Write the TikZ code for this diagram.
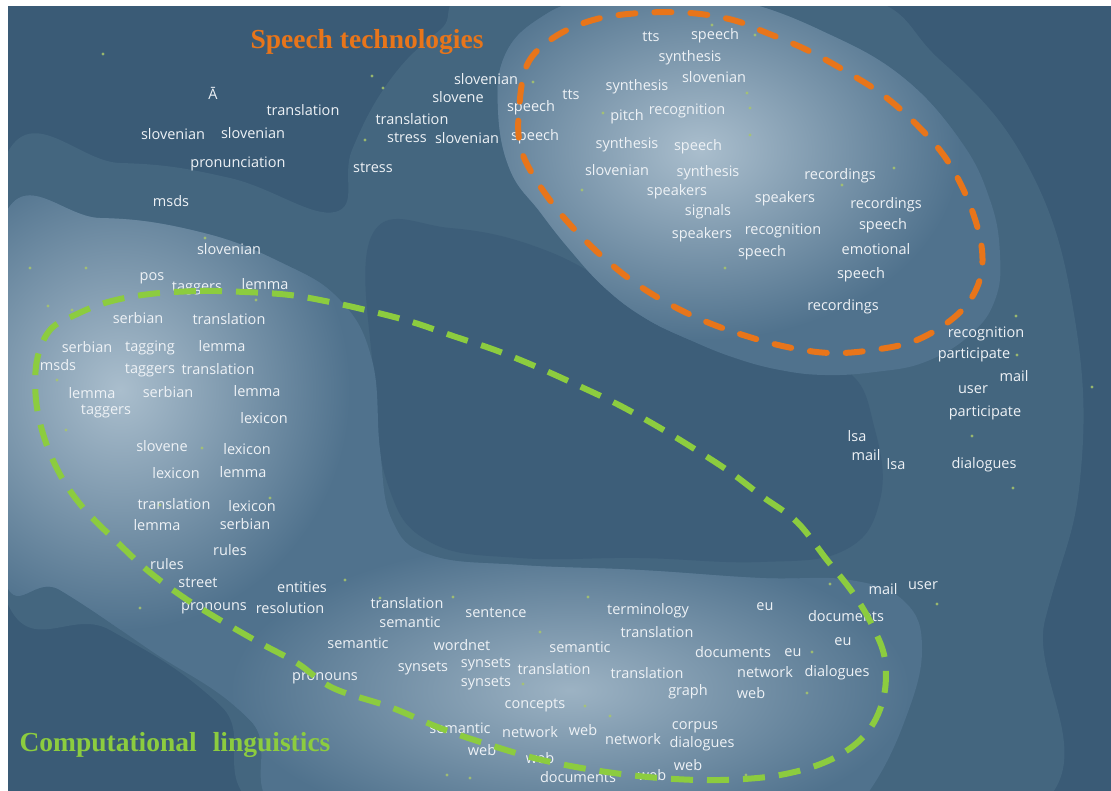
\documentclass[tikz,border=0pt]{standalone}
\usepackage{fontspec}
\newfontfamily\wordfont{Open Sans}
\newfontfamily\titlefont{Liberation Serif}
\definecolor{bgzero}{HTML}{3A5B76}
\definecolor{levone}{HTML}{44667F}
\definecolor{holec}{HTML}{3D5E79}
\definecolor{levtwo}{HTML}{50728D}
\definecolor{glowc}{HTML}{AABECD}
\definecolor{wordc}{HTML}{EEF2F6}
\definecolor{orangec}{HTML}{E8751A}
\definecolor{greenc}{HTML}{8CCC3F}
\definecolor{dotc}{HTML}{A8C66C}
\begin{document}
\begin{tikzpicture}[x=1pt,y=-1pt,
  word/.style={font=\wordfont\fontsize{14.5}{16}\selectfont, text=wordc, inner sep=0pt},
  titlestyle/.style={font=\titlefont\bfseries\fontsize{27.5}{30}\selectfont, inner sep=0pt},
  cluster/.style={line width=6pt, dash pattern=on 22pt off 14pt},
  gdot/.style={dotc, opacity=0.85}]
\useasboundingbox (0,0) rectangle (1111,790);
\begin{scope}
\clip (8,6) rectangle (1130,820);
\fill[bgzero] (8,6) rectangle (1130,820);
% level 1
\fill[levone] plot[smooth cycle, tension=0.7] coordinates {(0,172) (120,163) (230,178) (335,212) (352,150) (390,80) (440,30) (500,-10) (830,-10) (940,60) (1030,170) (1075,320) (1080,480) (1045,620) (990,830) (330,830) (220,705) (110,630) (0,580)};
% central darker hole
\fill[holec] plot[smooth cycle, tension=0.7] coordinates {(372,235) (450,228) (545,250) (640,300) (760,358) (845,370) (875,430) (880,500) (845,550) (760,562) (640,558) (520,558) (430,542) (388,485) (374,380)};
% level 2 top right
\fill[levtwo] plot[smooth cycle, tension=0.7] coordinates {(498,110) (505,55) (540,18) (590,0) (690,-5) (745,2) (820,30) (900,75) (960,140) (990,200) (1000,255) (995,300) (970,335) (925,362) (875,372) (825,375) (780,370) (735,358) (690,340) (645,318) (605,288) (570,250) (540,212) (510,170)};
% level 2 L shape
\fill[levtwo] plot[smooth cycle, tension=0.7] coordinates {(0,228) (100,218) (200,232) (280,262) (340,300) (372,360) (380,450) (392,520) (430,555) (520,565) (640,570) (760,578) (850,580) (905,602) (922,650) (905,720) (870,790) (830,830) (330,830) (250,720) (150,650) (60,590) (0,560)};
% glows
\begin{scope}
\clip plot[smooth cycle, tension=0.7] coordinates {(498,110) (505,55) (540,18) (590,0) (690,-5) (745,2) (820,30) (900,75) (960,140) (990,200) (1000,255) (995,300) (970,335) (925,362) (875,372) (825,375) (780,370) (735,358) (690,340) (645,318) (605,288) (570,250) (540,212) (510,170)};
\shade[inner color=glowc, outer color=levtwo] (700,150) ellipse (260 and 190);
\end{scope}
\begin{scope}
\clip plot[smooth cycle, tension=0.7] coordinates {(0,228) (100,218) (200,232) (280,262) (340,300) (372,360) (380,450) (392,520) (430,555) (520,565) (640,570) (760,578) (850,580) (905,602) (922,650) (905,720) (870,790) (830,830) (330,830) (250,720) (150,650) (60,590) (0,560)};
\shade[inner color=glowc, outer color=levtwo] (120,390) ellipse (230 and 240);
\shade[inner color=glowc!85!levtwo, outer color=levtwo] (570,690) ellipse (340 and 150);
\end{scope}
% small dots
\foreach \x/\y in {103/54, 372/76, 365/140, 383/88, 205/238, 30/268, 86/268, 48/306, 72/310, 256/300, 57/380, 66/430, 202/448, 160/505, 270/498, 140/608, 345/580, 380/598, 453/597, 540/632, 588/597, 523/684, 585/706, 610/716, 830/584, 937/604, 807/693, 812/652, 1016/316, 1017/355, 1092/387, 972/436, 1013/488, 894/168, 842/185, 750/108, 747/93, 712/25, 725/268, 603/113, 582/190, 533/82, 447/775, 470/778, 746/775, 755/35, 750/135}
  \fill[gdot] (\x,\y) circle (1.6);
\end{scope}
\fill[white] (0,0) rectangle (1111,6);
\fill[white] (0,0) rectangle (8,790);
% words
\foreach \n/\x/\y/\t in {1/213/93/Ā, 2/303/110/translation, 3/173/134/slovenian, 4/253/133/slovenian, 5/238/164/pronunciation, 6/171/201/msds, 7/229/249/slovenian, 8/412/119/translation, 9/486/79/slovenian, 10/458/97/slovene, 11/531/108/speech, 12/407/138/stress, 13/467/138/slovenian, 14/535/137/speech, 15/373/168/stress, 16/571/95/tts, 17/651/37/tts, 18/715/36/speech, 19/690/58/synthesis, 20/637/87/synthesis, 21/714/77/slovenian, 22/627/117/pitch, 23/687/111/recognition, 24/627/145/synthesis, 25/698/147/speech, 26/617/170/slovenian, 27/708/173/synthesis, 28/677/192/speakers, 29/708/212/signals, 30/702/235/speakers, 31/785/199/speakers, 32/783/231/recognition, 33/762/253/speech, 34/840/176/recordings, 35/886/205/recordings, 36/883/226/speech, 37/876/249/emotional, 38/861/275/speech, 39/843/307/recordings, 40/986/334/recognition, 41/974/355/participate, 42/1014/376/mail, 43/973/390/user, 44/985/413/participate, 45/857/436/lsa, 46/866/455/mail, 47/896/464/lsa, 48/984/465/dialogues, 49/152/278/pos, 50/197/288/taggers, 51/265/284/lemma, 52/138/318/serbian, 53/229/319/translation, 54/87/347/serbian, 55/150/348/tagging, 56/222/346/lemma, 57/58/365/msds, 58/150/370/taggers, 59/218/369/translation, 60/92/393/lemma, 61/168/392/serbian, 62/257/391/lemma, 63/106/411/taggers, 64/264/418/lexicon, 65/162/446/slovene, 66/247/449/lexicon, 67/176/473/lexicon, 68/243/472/lemma, 69/174/504/translation, 70/252/506/lexicon, 71/157/525/lemma, 72/245/524/serbian, 73/230/550/rules, 74/167/564/rules, 75/198/583/street, 76/302/587/entities, 77/214/608/pronouns, 78/290/608/resolution, 79/325/678/pronouns, 80/407/603/translation, 81/410/622/semantic, 82/496/613/sentence, 83/358/643/semantic, 84/462/645/wordnet, 85/580/647/semantic, 86/648/611/terminology, 87/657/632/translation, 88/423/668/synsets, 89/486/664/synsets, 90/486/683/synsets, 91/554/669/translation, 92/647/673/translation, 93/688/692/graph, 94/535/705/concepts, 95/460/728/semantic, 96/530/732/network, 97/583/730/web, 98/633/739/network, 99/695/727/corpus, 100/702/744/dialogues, 101/482/750/web, 102/540/758/web, 103/688/765/web, 104/578/777/documents, 105/652/775/web, 106/765/607/eu, 107/846/616/documents, 108/883/589/mail, 109/923/586/user, 110/843/642/eu, 111/733/652/documents, 112/793/653/eu, 113/765/672/network, 114/837/673/dialogues, 115/751/693/web}
  \node[word] (w\n) at (\x,\y) {\t};
% titles
\node[titlestyle, text=orangec] (speechtitle) at (367,42) {Speech technologies};
\node[titlestyle, text=greenc] (cltitle) at (175,745) {Computational\hspace{16pt}linguistics};
% cluster outlines
\draw[cluster, orangec, line cap=round, dash pattern=on 17pt off 19pt] plot[smooth cycle, tension=0.6] coordinates {(519,110) (527,65) (553,38) (593,20) (640,13) (690,13) (733,20) (767,33) (807,50) (847,72) (883,95) (917,125) (947,160) (970,205) (982,250) (978,285) (957,315) (917,340) (873,350) (830,353) (787,347) (743,335) (702,320) (662,300) (627,277) (593,248) (560,213) (533,175) (520,145)};
\draw[cluster, greenc] plot[smooth cycle, tension=0.6] coordinates {(150,294) (200,291) (245,292) (290,295) (330,302) (370,311) (412,322) (453,336) (495,350) (537,367) (577,385) (617,404) (655,425) (693,448) (730,472) (763,497) (797,522) (827,560) (853,593) (873,627) (885,660) (883,700) (865,735) (830,760) (780,775) (720,780) (660,778) (600,771) (542,760) (490,745) (440,728) (390,707) (333,688) (297,663) (260,643) (220,620) (183,597) (147,570) (115,540) (85,510) (62,478) (45,440) (36,400) (37,360) (50,330) (75,315) (108,302)};
\end{tikzpicture}
\end{document}
